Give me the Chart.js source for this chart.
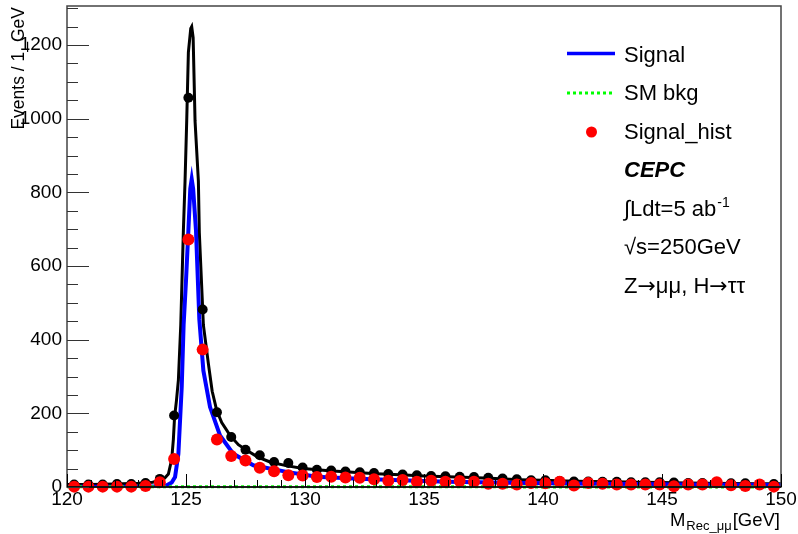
<!DOCTYPE html>
<html>
<head>
<meta charset="utf-8">
<script src="https://cdn.jsdelivr.net/npm/chart.js@4/dist/chart.umd.min.js"></script>
<style>
html,body{margin:0;padding:0;background:#fff;}
#c{display:block;}
</style>
</head>
<body>
<canvas id="c" width="798" height="534"></canvas>
<script>
// ---------------- DATA ----------------
const binCenters = [120.3,120.9,121.5,122.1,122.7,123.3,123.9,124.5,125.1,125.7,
  126.3,126.9,127.5,128.1,128.7,129.3,129.9,130.5,131.1,131.7,
  132.3,132.9,133.5,134.1,134.7,135.3,135.9,136.5,137.1,137.7,
  138.3,138.9,139.5,140.1,140.7,141.3,141.9,142.5,143.1,143.7,
  144.3,144.9,145.5,146.1,146.7,147.3,147.9,148.5,149.1,149.7];
const signalHist = [1,1,1,1,1,3,13,76,672,373,
  129,84,72,52,43,32,31,27,28,26,
  25,21,17,19,14,17,14,16,14,9,
  9,7,11,10,14,4,11,9,7,7,
  7,7,2,7,7,13,5,3,7,1];
const totalHist = [7,7,7,8,8,11,22,194,1057,482,
  203,136,101,86,68,65,53,47,45,42,
  40,38,35,34,32,30,29,28,27,25,
  23,21,18,18,16,15,15,14,14,13,
  13,13,12,11,11,10,10,10,8,8];

const totalCurveX = [120,121,122,123,123.6,123.9,124.1,124.26,124.4,124.47,124.52,124.6,124.68,124.78,124.89,124.96,125.03,125.1,125.2,125.24,125.3,125.38,125.52,125.56,125.73,125.94,126.1,126.29,126.5,126.85,127.2,127.55,128,128.53,129.2,129.93,131,132,133,134,135,136,137,138,139,140,141,142,143,144,145,146,147,148,149,150];
const totalCurveY = [7,7,8,10,13,18,24,35,75,130,190,235,290,440,696,831,994,1180,1245,1250,1220,994,831,690,440,335,260,208,175,140,115,100,82,68,58,50,44,40,36,33,30,28,26,23,20,18,16,15,14,13,12,11,10,9.5,9,8.5];

const signalCurveX = [120,123,123.8,124.19,124.4,124.54,124.68,124.82,124.9,125.0,125.1,125.18,125.24,125.3,125.42,125.56,125.73,126.01,126.43,126.99,127.83,129.23,130.5,132,134,136,138,140,142,144,146,148,150];
const signalCurveY = [0.5,1,2,5,12,27,90,271,440,560,696,810,836,810,696,455,316,217,140,90,59,41,28,23,18,14,12,10,9,8,7,6,5.5];

const bkgCurveX = [120,125,130,135,140,145,150];
const bkgCurveY = [0.4,0.5,0.4,0.4,0.3,0.3,0.3];

const xTicks = [120,125,130,135,140,145,150];
const yTicks = [0,200,400,600,800,1000,1200];
const xRange = [120,150];
const yRange = [0,1306];

const legendLabels = ["Signal","SM bkg","Signal_hist"];

// ---------------- HELPERS ----------------
function pts(xs, ys){ return xs.map((x,i)=>({x:x,y:ys[i]})); }
const FONT = "'Liberation Sans', Arial, Helvetica, sans-serif";

const rootPlugin = {
  id: 'rootDecor',
  afterDraw(chart){
    const ctx = chart.ctx;
    const a = chart.chartArea;
    const xs = chart.scales.x, ys = chart.scales.y;
    ctx.save();
    // frame
    ctx.strokeStyle = '#444';
    ctx.lineWidth = 1.5;
    ctx.strokeRect(a.left, a.top, a.right - a.left, a.bottom - a.top);
    // x axis line
    ctx.strokeStyle = '#000';
    ctx.lineWidth = 1.5;
    ctx.beginPath(); ctx.moveTo(a.left, a.bottom); ctx.lineTo(a.right, a.bottom); ctx.stroke();
    // x ticks
    ctx.lineWidth = 1;
    ctx.strokeStyle = '#000';
    for (let v = xRange[0]; v <= xRange[1] + 1e-9; v += 1) {
      const px = Math.round(xs.getPixelForValue(v)) + 0.5;
      const major = xTicks.includes(v);
      const len = major ? 13 : 7;
      ctx.beginPath(); ctx.moveTo(px, a.bottom); ctx.lineTo(px, a.bottom - len); ctx.stroke();
    }
    // y ticks
    ctx.strokeStyle = '#333';
    for (let v = 0; v <= yRange[1]; v += 50) {
      const py = Math.round(ys.getPixelForValue(v)) + 0.5;
      const major = yTicks.includes(v);
      const len = major ? 22 : 11;
      ctx.beginPath(); ctx.moveTo(a.left, py); ctx.lineTo(a.left + len, py); ctx.stroke();
    }
    // y title
    ctx.fillStyle = '#000';
    ctx.save();
    ctx.translate(24, 7);
    ctx.rotate(-Math.PI/2);
    ctx.font = "17.5px " + FONT;
    ctx.textAlign = 'right';
    ctx.textBaseline = 'alphabetic';
    ctx.fillText('Events / 1_GeV', 0, 0);
    ctx.restore();
    // x title: M_{Rec_μμ}[GeV], right aligned at 780
    ctx.textBaseline = 'alphabetic';
    ctx.textAlign = 'left';
    const bigF = "18.5px " + FONT, subF = "13px " + FONT;
    ctx.font = bigF; const wM = ctx.measureText('M').width; const wG = ctx.measureText('[GeV]').width;
    ctx.font = subF; const wS = ctx.measureText('Rec_μμ').width;
    let x0 = 780 - (wM + wS + wG + 2);
    ctx.font = bigF; ctx.fillText('M', x0, 526);
    ctx.font = subF; ctx.fillText('Rec_μμ', x0 + wM + 1, 530);
    ctx.font = bigF; ctx.fillText('[GeV]', x0 + wM + wS + 2, 526);

    // legend
    const lx = 624;
    const rows = [61.7, 100.2, 138.7, 177.2, 215.7, 254.2, 292.7];
    ctx.font = "22px " + FONT;
    ctx.fillStyle = '#000';
    // symbols
    ctx.strokeStyle = '#0000ff'; ctx.lineWidth = 3.5; ctx.setLineDash([]);
    ctx.beginPath(); ctx.moveTo(567, 53.5); ctx.lineTo(615, 53.5); ctx.stroke();
    ctx.strokeStyle = '#00ff00'; ctx.lineWidth = 3; ctx.setLineDash([3,3]);
    ctx.beginPath(); ctx.moveTo(567, 93); ctx.lineTo(615, 93); ctx.stroke();
    ctx.setLineDash([]);
    ctx.fillStyle = '#ff0000';
    ctx.beginPath(); ctx.arc(591.5, 132, 5.5, 0, Math.PI*2); ctx.fill();
    ctx.fillStyle = '#000';
    for (let i = 0; i < legendLabels.length; i++) ctx.fillText(legendLabels[i], lx, rows[i]);
    ctx.font = "italic bold 22px " + FONT;
    ctx.fillText('CEPC', lx, rows[3]);
    ctx.font = "22px " + FONT;
    const t1 = '∫Ldt=5 ab';
    ctx.fillText(t1, lx, rows[4]);
    const w1 = ctx.measureText(t1).width;
    ctx.font = "14px " + FONT;
    ctx.fillText('-1', lx + w1 + 1, rows[4] - 9);
    ctx.font = "22px " + FONT;
    ctx.fillText('√s=250GeV', lx, rows[5]);
    // Z→μμ, H→ττ with wider arrows
    const parts = [['Z', FONT], ['→', "'DejaVu Sans', sans-serif"], ['μμ, H', FONT], ['→', "'DejaVu Sans', sans-serif"], ['ττ', FONT]];
    let cx = lx;
    for (const [t, f] of parts) {
      ctx.font = "22px " + f;
      ctx.fillText(t, cx, rows[6]);
      cx += ctx.measureText(t).width;
    }
    ctx.restore();
  }
};

new Chart(document.getElementById('c'), {
  type: 'scatter',
  data: {
    datasets: [
      { label: 'Signal_hist', data: pts(binCenters, signalHist), backgroundColor: '#ff0000', borderColor: '#ff0000',
        pointRadius: 6, pointBorderWidth: 0, showLine: false, clip: false, order: 0 },
      { label: 'Data', data: pts(binCenters, totalHist), backgroundColor: '#000', borderColor: '#000',
        pointRadius: 5, pointBorderWidth: 0, showLine: false, clip: false, order: 1 },
      { label: 'SM bkg', data: pts(bkgCurveX, bkgCurveY), borderColor: '#00ff00', borderWidth: 3, borderDash: [3,3],
        pointRadius: 0, showLine: true, tension: 0, clip: false, order: 2 },
      { label: 'Signal', data: pts(signalCurveX, signalCurveY), borderColor: '#0000ff', borderWidth: 4,
        pointRadius: 0, showLine: true, tension: 0, order: 3 },
      { label: 'Total', data: pts(totalCurveX, totalCurveY), borderColor: '#000', borderWidth: 3,
        pointRadius: 0, showLine: true, tension: 0, order: 4 }
    ]
  },
  options: {
    responsive: false,
    animation: false,
    devicePixelRatio: 1,
    layout: { padding: { left: 0, right: 17, top: 5, bottom: 0 } },
    plugins: { legend: { display: false }, tooltip: { enabled: false } },
    scales: {
      x: {
        type: 'linear', min: xRange[0], max: xRange[1],
        grid: { display: false, drawTicks: false },
        border: { display: false },
        afterFit(s){ s.height = 47; s.paddingLeft = 0; s.paddingRight = 0; s.paddingTop = 0; s.paddingBottom = 0; },
        afterBuildTicks(s){ s.ticks = xTicks.map(v => ({value: v})); },
        ticks: { padding: 1, color: '#000', font: { family: FONT, size: 19 }, callback: v => String(v), maxRotation: 0, autoSkip: false }
      },
      y: {
        type: 'linear', min: yRange[0], max: yRange[1],
        grid: { display: false, drawTicks: false },
        border: { display: false },
        afterFit(s){ s.width = 67; s.paddingTop = 0; s.paddingBottom = 0; s.paddingLeft = 0; s.paddingRight = 0; },
        afterBuildTicks(s){ s.ticks = yTicks.map(v => ({value: v})); },
        ticks: { padding: 5, color: '#000', font: { family: FONT, size: 19 }, callback: v => String(v), autoSkip: false }
      }
    }
  },
  plugins: [rootPlugin]
});
</script>
</body>
</html>
